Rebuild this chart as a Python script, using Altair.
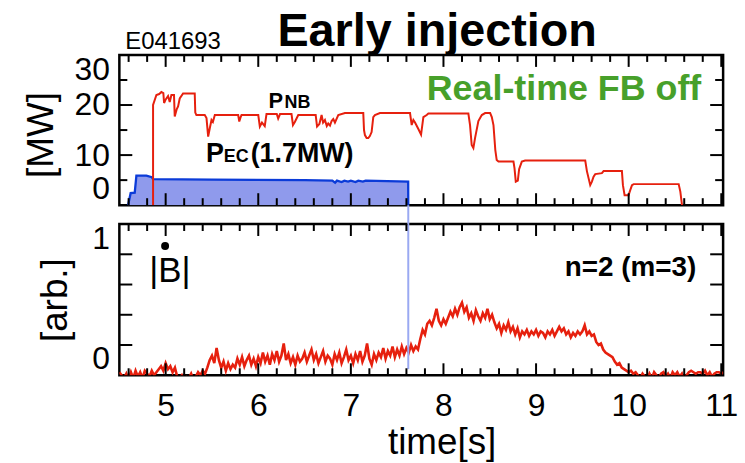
import altair as alt
import pandas as pd

# ---------------- data ----------------
# P_NB (red, MW) step-like trace
nb_t = [4.864, 4.864, 4.90, 4.93, 4.954,
        4.975, 4.983, 4.997, 5.026, 5.044,
        5.062, 5.09, 5.098, 5.12, 5.134,
        5.152, 5.188, 5.314, 5.32, 5.332,
        5.422, 5.441, 5.459, 5.477, 5.495,
        5.51, 5.531, 5.783, 5.795, 5.81,
        5.819, 6.0, 6.017, 6.04, 6.07,
        6.089, 6.2, 6.215, 6.235, 6.359,
        6.375, 6.395, 6.432, 6.62, 6.635,
        6.66, 6.684, 6.70, 6.72, 6.74,
        6.756, 6.775, 6.792, 6.81, 6.828,
        6.864, 6.936, 7.134, 7.142, 7.152,
        7.17, 7.188, 7.205, 7.224, 7.242,
        7.26, 7.314, 7.639, 7.657, 7.675,
        7.693, 7.729, 7.758, 7.783, 7.819,
        7.837, 8.269, 8.287, 8.305, 8.323,
        8.341, 8.377, 8.414, 8.45, 8.504,
        8.522, 8.54, 8.56, 8.575, 8.594,
        8.756, 8.767, 8.781, 8.803, 8.817,
        8.846, 8.882, 9.531, 9.549, 9.585,
        9.603, 9.621, 9.639, 9.711, 9.729,
        9.927, 9.938, 9.956, 9.999, 10.017,
        10.036, 10.054, 10.54, 10.558, 10.576]
nb_mw = [0, 20.0, 22.0, 22.2, 22.6,
         22.4, 20.4, 21.0, 21.8, 20.6,
         22.0, 22.0, 17.7, 19.2, 19.7,
         21.3, 22.3, 22.3, 18.5, 18.0,
         18.0, 17.4, 13.7, 15.4, 17.0,
         16.6, 18.0, 18.0, 16.7, 17.6,
         18.0, 18.0, 15.7, 16.5, 15.8,
         18.2, 18.2, 17.3, 18.2, 18.2,
         16.0, 16.6, 18.0, 18.0, 15.7,
         16.2, 18.0, 16.5, 17.0, 15.8,
         16.3, 15.9, 16.8, 17.2, 16.5,
         18.0, 18.4, 18.4, 15.0, 14.0,
         13.4, 13.4, 13.8, 14.6, 17.6,
         18.0, 18.4, 18.4, 16.0, 17.0,
         16.5, 15.2, 14.1, 17.6, 18.0,
         18.3, 18.3, 16.0, 12.0, 11.4,
         13.4, 16.8, 18.0, 18.4, 18.4,
         17.6, 16.0, 11.0, 9.0, 8.7,
         8.7, 7.4, 4.7, 4.9, 7.2,
         8.7, 8.9, 8.9, 6.8, 4.0,
         4.7, 5.7, 6.2, 6.4, 6.8,
         6.8, 4.0, 2.0, 2.0, 3.0,
         4.0, 4.2, 4.2, 2.7, 0]

# P_EC (blue, MW)
ec_t = [4.594, 4.622, 4.666, 4.684, 4.792, 4.85, 4.864, 5.5, 6.5, 6.80, 6.83,
        6.85, 6.9, 6.93, 6.97, 7.0, 7.05, 7.08, 7.13, 7.16, 7.619, 7.62]
ec_mw = [0, 2.4, 2.5, 5.9, 5.9, 5.6, 5.2, 5.1, 5.0, 4.9, 4.5,
         4.9, 4.6, 4.9, 4.7, 4.9, 4.6, 4.9, 4.7, 4.9, 4.7, 0]
ec_off_t = 7.62
ec_off_low = 0.04

# |B-dot| n=2 (arb.), sampled every b_dt from b_t0
b_t0 = 4.5
b_dt = 0.025
b_vals = [
    0.02, 0.00, -0.02, 0.01, -0.03, 0.02, -0.02, 0.03, -0.01, 0.02, -0.02, 0.03, 0.01, -0.01, 0.03, 0.00, 0.02, 0.04, 0.06, 0.03,
    0.08, 0.04, 0.06, 0.02, 0.05, -0.01, -0.02, 0.00, -0.03, -0.01, -0.02, 0.01, -0.03, -0.01, 0.02, 0.00, 0.03, 0.01, 0.05, 0.10,
    0.13, 0.08, 0.18, 0.10, 0.05, 0.09, 0.03, 0.08, 0.04, 0.07, 0.05, 0.11, 0.07, 0.12, 0.06, 0.10, 0.13, 0.07, 0.11, 0.06,
    0.12, 0.08, 0.15, 0.09, 0.13, 0.07, 0.14, 0.10, 0.16, 0.09, 0.13, 0.21, 0.10, 0.14, 0.08, 0.12, 0.07, 0.13, 0.09, 0.11,
    0.15, 0.09, 0.13, 0.17, 0.10, 0.14, 0.08, 0.12, 0.16, 0.09, 0.13, 0.11, 0.07, 0.14, 0.10, 0.15, 0.08, 0.12, 0.17, 0.10,
    0.13, 0.08, 0.14, 0.10, 0.16, 0.09, 0.13, 0.21, 0.11, 0.07, 0.14, 0.10, 0.15, 0.12, 0.18, 0.11, 0.16, 0.13, 0.19, 0.12,
    0.17, 0.13, 0.19, 0.14, 0.18, 0.15, 0.20, 0.16, 0.19, 0.17, 0.24, 0.30, 0.27, 0.34, 0.36, 0.33, 0.38, 0.44, 0.36, 0.33,
    0.37, 0.34, 0.38, 0.42, 0.39, 0.44, 0.40, 0.45, 0.48, 0.42, 0.45, 0.38, 0.41, 0.36, 0.43, 0.39, 0.36, 0.41, 0.38, 0.44,
    0.37, 0.40, 0.35, 0.31, 0.34, 0.28, 0.33, 0.30, 0.35, 0.29, 0.32, 0.27, 0.31, 0.25, 0.29, 0.27, 0.30, 0.26, 0.29, 0.27,
    0.30, 0.26, 0.29, 0.28, 0.25, 0.29, 0.27, 0.30, 0.26, 0.29, 0.32, 0.29, 0.31, 0.27, 0.29, 0.25, 0.28, 0.26, 0.29, 0.27,
    0.29, 0.33, 0.27, 0.29, 0.26, 0.27, 0.22, 0.20, 0.21, 0.17, 0.15, 0.14, 0.13, 0.12, 0.09, 0.07, 0.08, 0.05, 0.04, 0.03,
    0.02, 0.03, 0.01, 0.02, 0.00, -0.02, 0.01, -0.01, -0.03, 0.01, -0.02, 0.02, 0.00, -0.02, 0.01, 0.02, -0.01, 0.01, -0.02, 0.02,
    0.00, 0.02, -0.01, 0.01, -0.03, 0.00, 0.02, 0.03, 0.02, 0.01, 0.02, 0.02, 0.01, 0.03, 0.00, 0.02, -0.01, 0.01, 0.02, 0.02,
    0.01, 0.02,
]

# axes / ticks
x_labels = [5, 6, 7, 8, 9, 10, 11]
x_minor = [4.6, 4.8, 5.2, 5.4, 5.6, 5.8, 6.2, 6.4, 6.6, 6.8, 7.2, 7.4, 7.6, 7.8,
           8.2, 8.4, 8.6, 8.8, 9.2, 9.4, 9.6, 9.8, 10.2, 10.4, 10.6, 10.8]
top_y_labels = [0, 10, 20, 30]
top_y_major = [10, 20]
top_y_minor = [5, 15, 25]
bot_y_labels = [0, 1]
bot_y_ticks = [0.2, 0.4, 0.6, 0.8]

# ---------------- frames ----------------
nb_df = pd.DataFrame({"t": nb_t, "mw": nb_mw, "i": list(range(len(nb_t)))})
ec_df = pd.DataFrame({"t": ec_t, "mw": ec_mw, "i": list(range(len(ec_t)))})
b_df = pd.DataFrame({"t": [b_t0 + k * b_dt for k in range(len(b_vals))], "v": b_vals,
                     "i": list(range(len(b_vals)))})
one = pd.DataFrame({"a": [0]})

W, H1, H2 = 607, 151, 152
RED = "#e6200e"
BLUE = "#0b3bd8"
FILL = "#8f9aec"
GREEN = "#47a02a"
FONT = "Liberation Sans"
TICKFS = 32

XS = alt.Scale(domain=[4.5, 11.02], nice=False, zero=False)
Y1 = alt.Scale(domain=[0, 30], nice=False, zero=False)
Y2 = alt.Scale(domain=[0, 1], nice=False, zero=False)

AX_Y1 = alt.Axis(values=top_y_labels, format="d", labelFlush=True, labelOverlap=False, ticks=False,
                 tickSize=0, domain=False, grid=False,
                 labelPadding=10, labelFont=FONT, labelFontSize=TICKFS, labelColor="black",
                 title="[MW]", titleFont=FONT, titleFontSize=37, titleFontWeight="normal",
                 titleColor="black", titleX=-67, titleY=80, titleAlign="center",
                 titleBaseline="alphabetic", titleAngle=270)
AX_Y2 = alt.Axis(values=bot_y_labels, format="d", labelFlush=True, labelOverlap=False, ticks=False,
                 tickSize=0, domain=False, grid=False,
                 labelPadding=10, labelFont=FONT, labelFontSize=TICKFS, labelColor="black",
                 title="[arb.]", titleFont=FONT, titleFontSize=37, titleFontWeight="normal",
                 titleColor="black", titleX=-53, titleY=76, titleAlign="center",
                 titleBaseline="alphabetic", titleAngle=270)
AX_X2 = alt.Axis(values=x_labels, format="d", labelFlush=False, labelOverlap=False, ticks=False,
                 tickSize=0, domain=False,
                 grid=False, labelPadding=15, labelFont=FONT, labelFontSize=TICKFS, labelColor="black",
                 title="time[s]", titleFont=FONT, titleFontSize=37, titleFontWeight="normal",
                 titleColor="black", titleX=324, titleY=79, titleAlign="center",
                 titleBaseline="alphabetic")


def xticks(vals, length, h, axis):
    df = pd.DataFrame({"t": vals})
    top = alt.Chart(df).mark_rule(color="black", strokeWidth=2).encode(
        x=alt.X("t:Q", scale=XS, axis=axis), y=alt.value(0), y2=alt.value(length))
    bot = alt.Chart(df).mark_rule(color="black", strokeWidth=2).encode(
        x=alt.X("t:Q", scale=XS, axis=axis), y=alt.value(h), y2=alt.value(h - length))
    return [top, bot]


def yticks(vals, length, field, scale, axis):
    df = pd.DataFrame({field: vals})
    left = alt.Chart(df).mark_rule(color="black", strokeWidth=2).encode(
        y=alt.Y(f"{field}:Q", scale=scale, axis=axis), x=alt.value(0), x2=alt.value(length))
    right = alt.Chart(df).mark_rule(color="black", strokeWidth=2).encode(
        y=alt.Y(f"{field}:Q", scale=scale, axis=axis), x=alt.value(W), x2=alt.value(W - length))
    return [left, right]


def label(text, x, y, size, weight="normal", align="left", color="black", font=FONT):
    return alt.Chart(one).mark_text(text=text, font=font, fontSize=size, fontWeight=weight,
                                    align=align, baseline="alphabetic", color=color).encode(
        x=alt.value(x), y=alt.value(y))


# ---------------- top panel ----------------
ec_area = alt.Chart(ec_df).mark_area(color=FILL, opacity=1, clip=True).encode(
    x=alt.X("t:Q", scale=XS, axis=None), y=alt.Y("mw:Q", scale=Y1, axis=AX_Y1, stack=None))
ec_line = alt.Chart(ec_df).mark_line(color=BLUE, strokeWidth=2.3, clip=True).encode(
    x=alt.X("t:Q", scale=XS, axis=None), y=alt.Y("mw:Q", scale=Y1, axis=AX_Y1), order="i:Q")
nb_line = alt.Chart(nb_df).mark_line(color=RED, strokeWidth=2, clip=True).encode(
    x=alt.X("t:Q", scale=XS, axis=None), y=alt.Y("mw:Q", scale=Y1, axis=AX_Y1), order="i:Q")

top_layers = [ec_area, ec_line, nb_line]
top_layers += xticks(x_labels, 12, H1, None) + xticks(x_minor, 7, H1, None)
top_layers += yticks(top_y_major, 13, "mw", Y1, AX_Y1) + yticks(top_y_minor, 8, "mw", Y1, AX_Y1)
top_layers += [
    label("Early injection", 319.5, -9, 47, weight="bold", align="center"),
    label("E041693", 6, -6, 24),
    label("P", 150, 53, 22, weight="bold"),
    label("NB", 166, 53, 18, weight="bold"),
    label("P", 87, 108, 27, weight="bold"),
    label("EC", 105, 108, 18, weight="bold"),
    label("(1.7MW)", 132, 108, 27, weight="bold"),
    label("Real-time FB off", 585, 45, 36, weight="bold", align="right", color=GREEN),
    alt.Chart(one).mark_rule(opacity=0, strokeWidth=0.01).encode(
        x=alt.value(-118), x2=alt.value(745 - 118), y=alt.value(-52)),
]
top = alt.layer(*top_layers).properties(width=W, height=H1)

# ---------------- bottom panel ----------------
b_line = alt.Chart(b_df).mark_line(color=RED, strokeWidth=2.6, clip=True).encode(
    x=alt.X("t:Q", scale=XS, axis=AX_X2), y=alt.Y("v:Q", scale=Y2, axis=AX_Y2), order="i:Q")
off_df = pd.DataFrame({"t": [ec_off_t], "v": [ec_off_low]})
off_rule = alt.Chart(off_df).mark_rule(color="#9aa9f2", strokeWidth=2).encode(
    x=alt.X("t:Q", scale=XS, axis=AX_X2), y=alt.Y("v:Q", scale=Y2, axis=AX_Y2), y2=alt.value(-19))

bot_layers = [b_line, off_rule]
bot_layers += xticks(x_labels, 12, H2, AX_X2) + xticks(x_minor, 7, H2, AX_X2)
bot_layers += yticks(bot_y_ticks, 13, "v", Y2, AX_Y2)
bot_layers += [
    label("n=2 (m=3)", 580, 52, 28, weight="bold", align="right"),
    label("|B|", 30, 58, 35),
    alt.Chart(one).mark_circle(size=64, color="black", opacity=1).encode(
        x=alt.value(46), y=alt.value(22)),
    alt.Chart(one).mark_rule(opacity=0, strokeWidth=0.01).encode(
        x=alt.value(-118), x2=alt.value(745 - 118), y=alt.value(463 - 222)),
]
bottom = alt.layer(*bot_layers).properties(width=W, height=H2)

chart = alt.vconcat(top, bottom, spacing=19, bounds="flush").properties(
    padding=0, autosize=alt.AutoSizeParams(type="pad"), background="white"
).configure_view(stroke="black", strokeWidth=2.5)

chart.save("out.html", embed_options={"renderer": "svg", "actions": False})
